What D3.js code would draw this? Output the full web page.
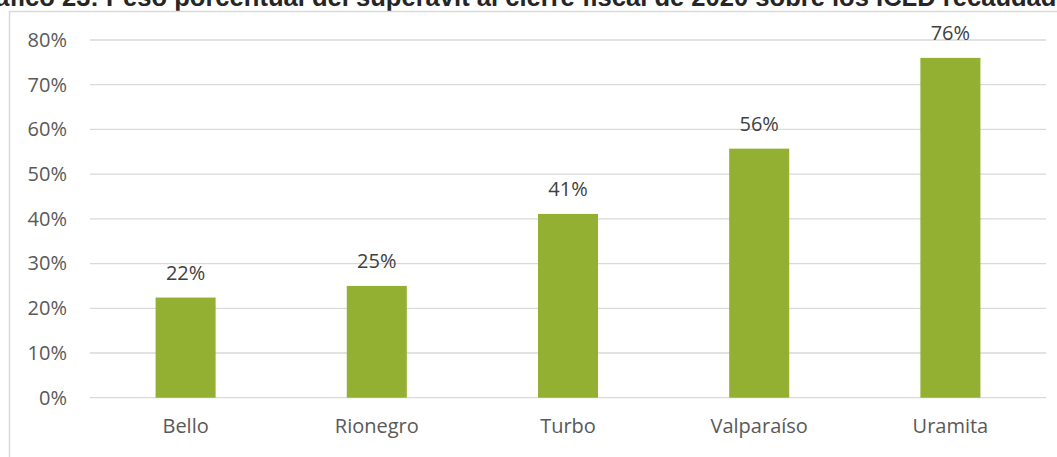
<!DOCTYPE html>
<html>
<head>
<meta charset="utf-8">
<script src="https://cdn.jsdelivr.net/npm/d3@7/dist/d3.min.js"></script>
<style>
  html, body { margin: 0; padding: 0; background: #fff; }
  svg { display: block; }
</style>
</head>
<body>
<div id="chart"></div>
<script>
// Municipios and superávit share of collected ICLD (fraction)
const categories = ["Bello", "Rionegro", "Turbo", "Valparaíso", "Uramita"];
const values = [0.224, 0.250, 0.411, 0.557, 0.760];
const valueLabels = ["22%", "25%", "41%", "56%", "76%"];
const yTicks = [0, 0.1, 0.2, 0.3, 0.4, 0.5, 0.6, 0.7, 0.8];
const yTickLabels = ["0%", "10%", "20%", "30%", "40%", "50%", "60%", "70%", "80%"];
const titlePrefix = "Gráfico 23: ";
const titleBody = "Peso porcentual del superávit al cierre fiscal de 2020 sobre los ICLD recaudados";

const W = 1057, H = 457;
const font = "'Open Sans', 'Noto Sans', sans-serif";
const labelSize = 20;

const svg = d3.select("#chart").append("svg")
  .attr("width", W).attr("height", H);

// Title band above the frame: wide heading, sized so its body runs
// from x=106 until "recaudad" reaches the right edge
const title = svg.append("text")
  .attr("x", 0).attr("y", 6)
  .attr("font-family", "'Liberation Sans', Arial, sans-serif")
  .attr("font-weight", "bold")
  .attr("font-size", 20)
  .attr("fill", "#262626")
  .text(titlePrefix + titleBody);
{
  const node = title.node();
  const bodyToEdge = "Peso porcentual del superávit al cierre fiscal de 2020 sobre los ICLD recaudad".length;
  const w = node.getSubStringLength(titlePrefix.length, bodyToEdge);
  const size = 20 * (W - 106) / w;
  title.attr("font-size", size);
  const pre = node.getSubStringLength(0, titlePrefix.length);
  title.attr("x", 106 - pre);
}

// Chart frame
svg.append("path")
  .attr("d", `M9.5,${H} V11.5 H${W}`)
  .attr("fill", "none")
  .attr("stroke", "#d9d9d9")
  .attr("stroke-width", 1.5);

const x = d3.scaleBand()
  .domain(categories)
  .range([90, 1046])
  .paddingInner(0.686)
  .paddingOuter(0.343);

const y = d3.scaleLinear()
  .domain([0, 0.8])
  .range([397.7, 40]);

// Gridlines
svg.append("g")
  .selectAll("line")
  .data(yTicks)
  .join("line")
  .attr("x1", 90).attr("x2", 1046)
  .attr("y1", d => y(d)).attr("y2", d => y(d))
  .attr("stroke", "#d9d9d9")
  .attr("stroke-width", 1.3);

// Y axis labels
const yAxis = d3.axisLeft(y)
  .tickValues(yTicks)
  .tickFormat((d, i) => yTickLabels[i])
  .tickSize(0)
  .tickPadding(0);
const gy = svg.append("g")
  .attr("transform", "translate(67,0)")
  .call(yAxis);
gy.select(".domain").remove();
gy.selectAll("text")
  .attr("font-family", font)
  .attr("font-size", labelSize)
  .attr("fill", "#595959");

// Bars
svg.append("g")
  .selectAll("rect")
  .data(values)
  .join("rect")
  .attr("x", (d, i) => x(categories[i]))
  .attr("width", x.bandwidth())
  .attr("y", d => y(d))
  .attr("height", d => y(0) - y(d))
  .attr("fill", "#94b033");

// Data labels
svg.append("g")
  .selectAll("text")
  .data(values)
  .join("text")
  .attr("x", (d, i) => x(categories[i]) + x.bandwidth() / 2)
  .attr("y", d => y(d) - 18)
  .attr("text-anchor", "middle")
  .attr("font-family", font)
  .attr("font-size", labelSize)
  .attr("fill", "#404040")
  .text((d, i) => valueLabels[i]);

// X axis category labels
const xAxis = d3.axisBottom(x).tickSize(0).tickPadding(0);
const gx = svg.append("g")
  .attr("transform", "translate(0,419)")
  .call(xAxis);
gx.select(".domain").remove();
gx.selectAll("text")
  .attr("font-family", font)
  .attr("font-size", labelSize)
  .attr("fill", "#595959");
</script>
</body>
</html>
